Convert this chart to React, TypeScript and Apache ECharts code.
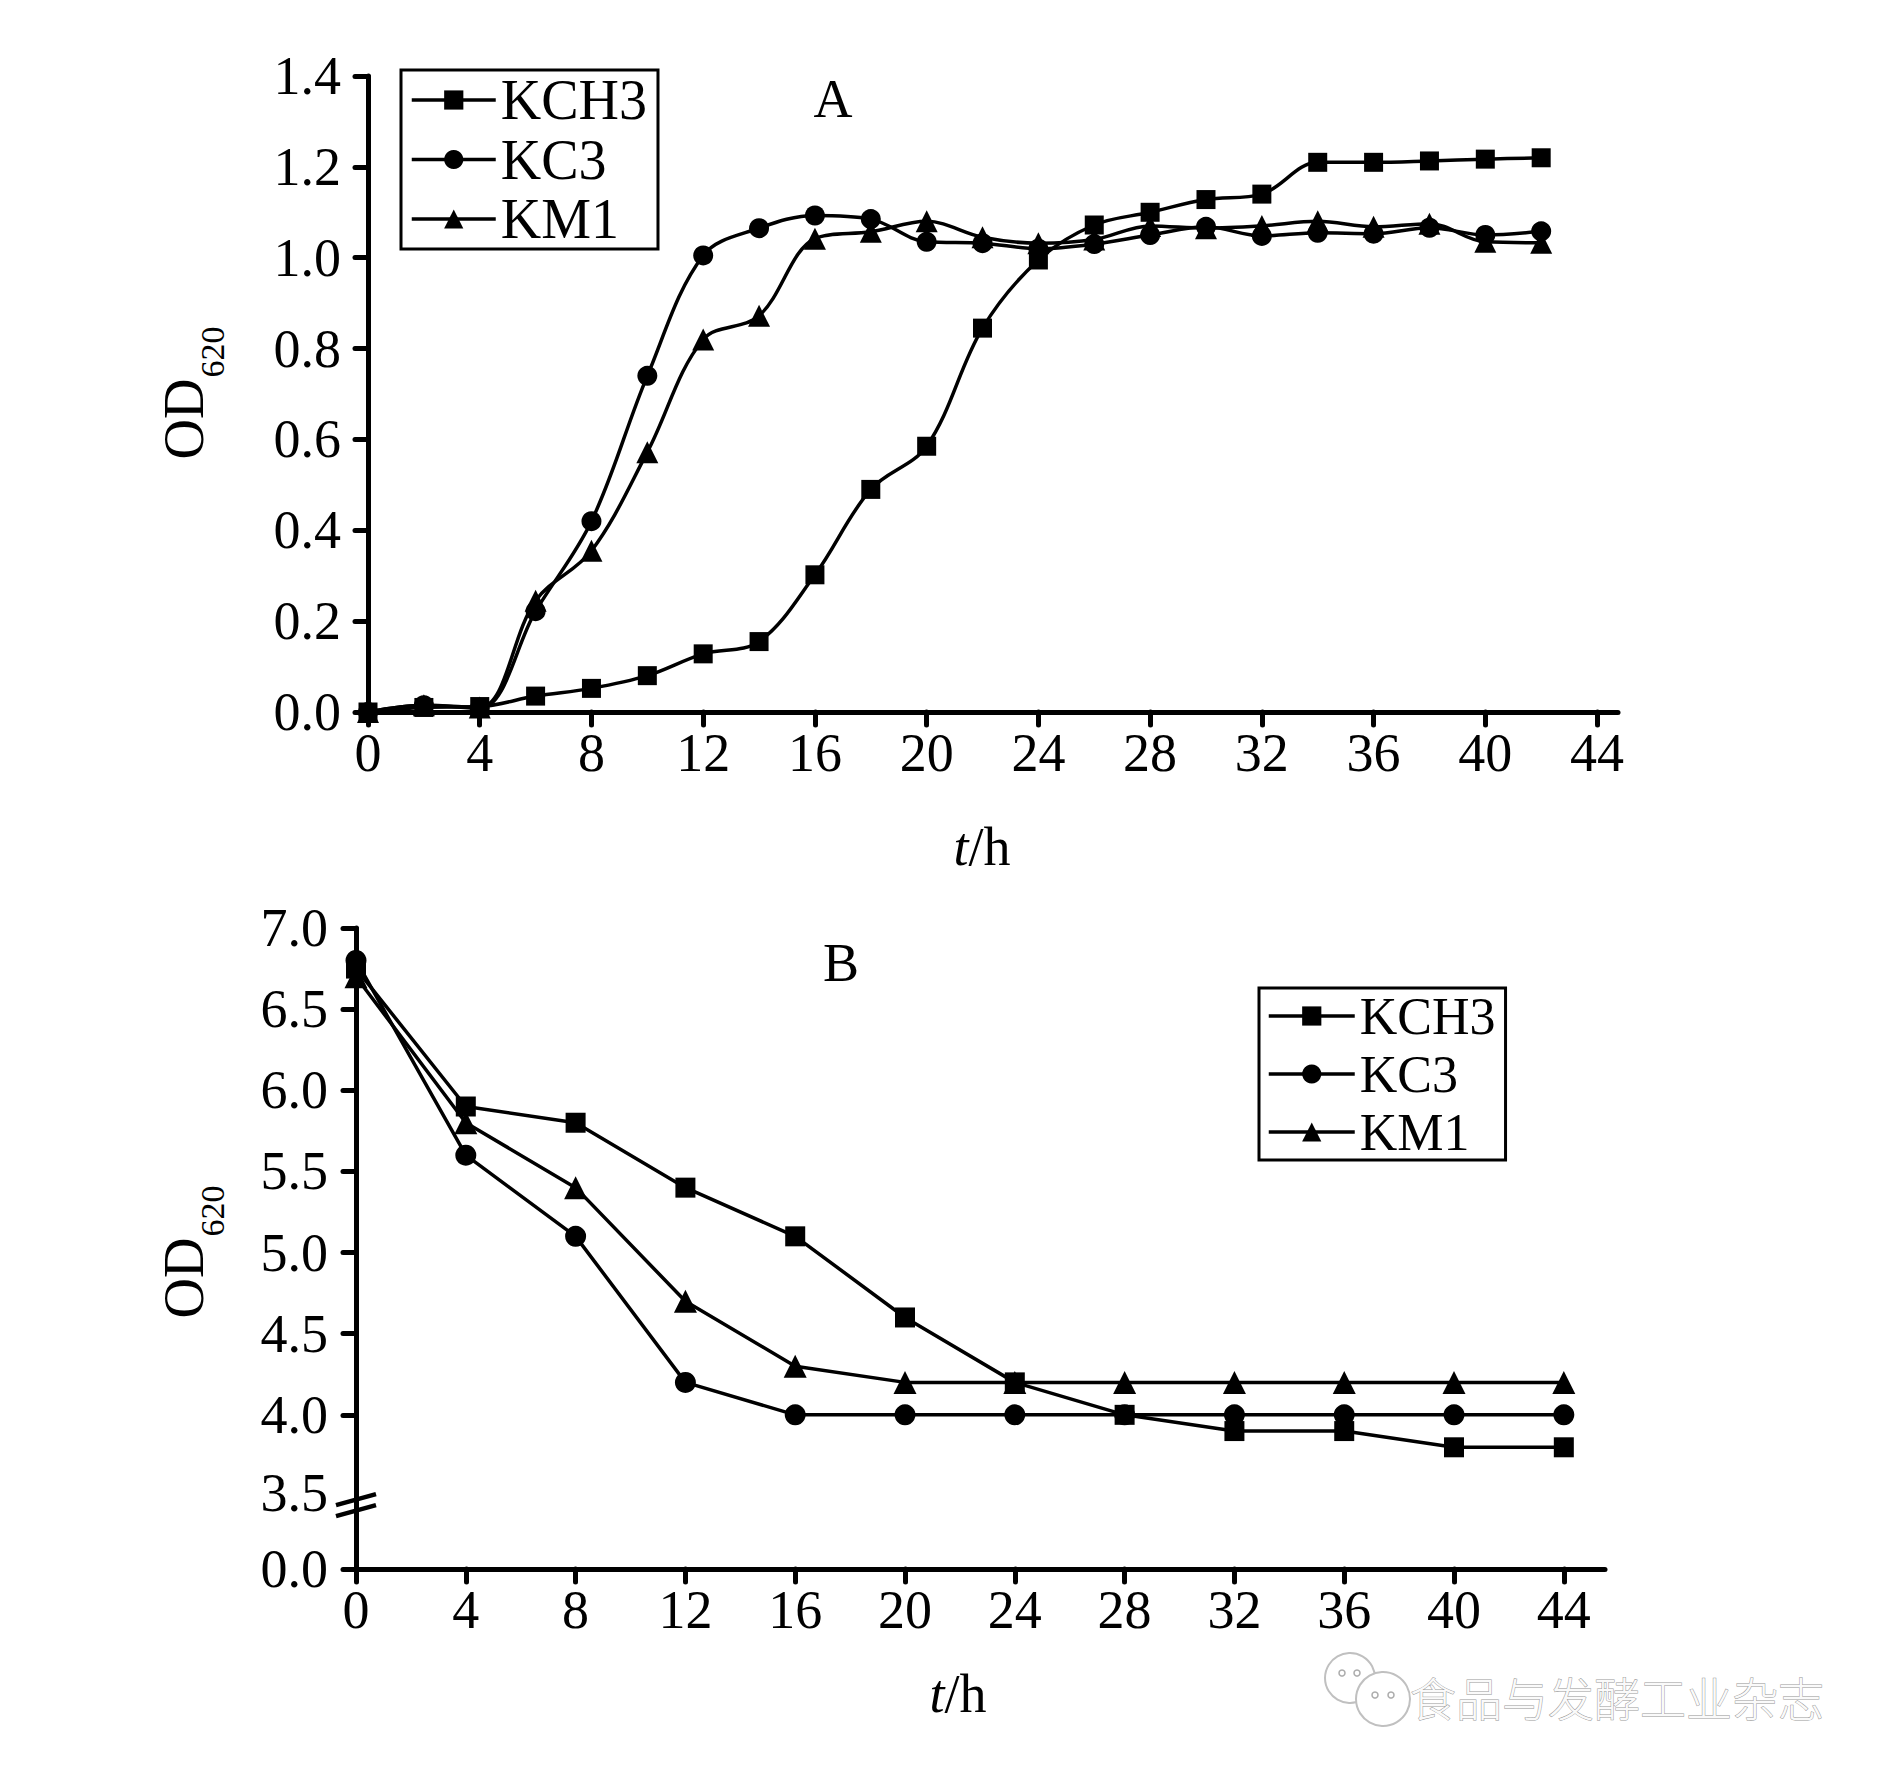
import React, { useEffect, useRef } from "react";
import * as echarts from "echarts";

// ---------- Data ----------
const hoursA = [0, 2, 4, 6, 8, 10, 12, 14, 16, 18, 20, 22, 24, 26, 28, 30, 32, 34, 36, 38, 40, 42];
const kch3A = [0.0, 0.01, 0.012, 0.035, 0.052, 0.08, 0.128, 0.155, 0.302, 0.49, 0.585, 0.845, 0.995, 1.072, 1.1, 1.128, 1.14, 1.21, 1.21, 1.213, 1.217, 1.22];
const kc3A = [0.0, 0.015, 0.008, 0.222, 0.42, 0.74, 1.005, 1.065, 1.093, 1.085, 1.035, 1.032, 1.02, 1.03, 1.05, 1.068, 1.048, 1.055, 1.053, 1.066, 1.05, 1.058];
const km1A = [0.0, 0.015, 0.01, 0.245, 0.355, 0.572, 0.82, 0.872, 1.042, 1.057, 1.08, 1.045, 1.032, 1.04, 1.07, 1.065, 1.07, 1.08, 1.068, 1.075, 1.035, 1.033];

const hoursB = [0, 4, 8, 12, 16, 20, 24, 28, 32, 36, 40, 44];
const kch3B = [6.75, 5.9, 5.8, 5.4, 5.1, 4.6, 4.2, 4.0, 3.9, 3.9, 3.8, 3.8];
const kc3B = [6.8, 5.6, 5.1, 4.2, 4.0, 4.0, 4.0, 4.0, 4.0, 4.0, 4.0, 4.0];
const km1B = [6.7, 5.8, 5.4, 4.7, 4.3, 4.2, 4.2, 4.2, 4.2, 4.2, 4.2, 4.2];

const xTickValues = [0, 4, 8, 12, 16, 20, 24, 28, 32, 36, 40, 44];
// broken axis B: bottom of axis stands for 0.0, and the 3.5 label sits just above the break
const yBreakBottom = 3.05;
const yBreakLabel35 = 3.52;
const yBreakMark = 3.45;
const yTickValuesB = [yBreakBottom, 4, 4.5, 5, 5.5, 6, 6.5, 7];
const yLabelValuesB = [yBreakBottom, yBreakLabel35, 4, 4.5, 5, 5.5, 6, 6.5, 7];
const seriesNames = ["KCH3", "KC3", "KM1"];
const watermarkText = "食品与发酵工业杂志";

const FONT = "Liberation Serif";
const BLACK = "#000";

function makeSeries(name: string, symbol: string, size: number, hours: number[], vals: number[], gi: number, smooth: number | boolean) {
  return {
    type: "line",
    name,
    xAxisIndex: gi,
    yAxisIndex: gi,
    data: hours.map((h, i) => [h, vals[i]]),
    smooth,
    symbol,
    symbolSize: size,
    showSymbol: true,
    clip: false,
    lineStyle: { color: BLACK, width: 3.5 },
    itemStyle: { color: BLACK },
    emphasis: { disabled: true },
  };
}

function xAxis(gi: number, max: number) {
  return {
    type: "value",
    gridIndex: gi,
    min: 0,
    max,
    interval: 4,
    axisLine: { show: true, lineStyle: { color: BLACK, width: 5 } },
    axisTick: { show: true, length: 13, customValues: xTickValues, lineStyle: { color: BLACK, width: 5, cap: "round" } },
    axisLabel: { customValues: xTickValues, fontFamily: FONT, fontSize: 54, color: BLACK, margin: 14 },
    splitLine: { show: false },
  };
}

export default function App() {
  const ref = useRef<HTMLDivElement>(null);

  useEffect(() => {
    if (!ref.current) return;
    const chart = echarts.init(ref.current, null, { renderer: "svg" });

    const option: any = {
      animation: false,
      backgroundColor: "#fff",
      grid: [
        { left: 368, top: 76, width: 1250, height: 636 },
        { left: 356, top: 928, width: 1249, height: 641 },
      ],
      xAxis: [xAxis(0, 44.75), xAxis(1, 45.5)],
      yAxis: [
        {
          type: "value",
          gridIndex: 0,
          min: 0,
          max: 1.4,
          interval: 0.2,
          axisLine: { show: true, lineStyle: { color: BLACK, width: 5 } },
          axisTick: { show: true, length: 13, lineStyle: { color: BLACK, width: 5, cap: "round" } },
          axisLabel: { fontFamily: FONT, fontSize: 54, color: BLACK, margin: 27, formatter: (v: number) => v.toFixed(1) },
          splitLine: { show: false },
        },
        {
          type: "value",
          gridIndex: 1,
          min: yBreakBottom,
          max: 7,
          axisLine: { show: true, lineStyle: { color: BLACK, width: 5 } },
          axisTick: { show: true, length: 13, customValues: yTickValuesB, lineStyle: { color: BLACK, width: 5, cap: "round" } },
          axisLabel: {
            customValues: yLabelValuesB,
            fontFamily: FONT,
            fontSize: 54,
            color: BLACK,
            margin: 28,
            formatter: (v: number) =>
              Math.abs(v - yBreakBottom) < 1e-9 ? "0.0" : Math.abs(v - yBreakLabel35) < 1e-9 ? "3.5" : v.toFixed(1),
          },
          splitLine: { show: false },
        },
      ],
      legend: [
        {
          data: seriesNames,
          orient: "vertical",
          left: 401,
          top: 70,
          itemWidth: 84,
          itemHeight: 24,
          itemGap: 3.5,
          padding: [2, 11, 2, 9],
          borderColor: BLACK,
          borderWidth: 3,
          selectedMode: false,
          lineStyle: { width: 3.5, color: BLACK },
          textStyle: { fontFamily: FONT, fontSize: 56, lineHeight: 56, color: BLACK },
        },
        {
          data: seriesNames,
          orient: "vertical",
          left: 1259,
          top: 988,
          itemWidth: 86,
          itemHeight: 24,
          itemGap: 6,
          padding: [2, 10, 2, 8],
          borderColor: BLACK,
          borderWidth: 3,
          selectedMode: false,
          lineStyle: { width: 3.5, color: BLACK },
          textStyle: { fontFamily: FONT, fontSize: 52, lineHeight: 52, color: BLACK },
        },
      ],
      series: [
        makeSeries(seriesNames[0], "rect", 19, hoursA, kch3A, 0, 0.35),
        makeSeries(seriesNames[1], "circle", 20, hoursA, kc3A, 0, 0.35),
        makeSeries(seriesNames[2], "triangle", 22, hoursA, km1A, 0, 0.35),
        makeSeries(seriesNames[0], "rect", 20, hoursB, kch3B, 1, false),
        makeSeries(seriesNames[1], "circle", 21, hoursB, kc3B, 1, false),
        makeSeries(seriesNames[2], "triangle", 23, hoursB, km1B, 1, false),
      ],
    };
    chart.setOption(option);

    const brk = chart.convertToPixel({ xAxisIndex: 1, yAxisIndex: 1 }, [0, yBreakMark]) as number[];
    const bx = brk[0];
    const by = brk[1];

    const txt = (x: number, y: number, text: string, size: number, extra: any = {}) => ({
      type: "text",
      x,
      y,
      silent: true,
      ...extra,
      style: {
        text,
        fontFamily: FONT,
        fontSize: size,
        fill: BLACK,
        align: "center",
        verticalAlign: "middle",
        textAlign: "center",
        textVerticalAlign: "middle",
        ...(extra.style || {}),
      },
    });

    const richTitle = (x: number, y: number) => ({
      type: "text",
      x,
      y,
      silent: true,
      style: {
        text: "{i|t}{n|/h}",
        fill: BLACK,
        align: "center",
        verticalAlign: "middle",
        textAlign: "center",
        textVerticalAlign: "middle",
        rich: {
          i: { fontFamily: FONT, fontSize: 54, fontStyle: "italic", fill: BLACK },
          n: { fontFamily: FONT, fontSize: 54, fill: BLACK },
        },
      },
    });

    chart.setOption({
      graphic: [
        // panel labels
        txt(833, 99, "A", 54),
        txt(841, 963, "B", 54),
        // y titles
        txt(184, 419, "OD", 56, { rotation: Math.PI / 2 }),
        txt(212, 352, "620", 34, { rotation: Math.PI / 2 }),
        txt(184, 1278, "OD", 56, { rotation: Math.PI / 2 }),
        txt(212, 1211, "620", 34, { rotation: Math.PI / 2 }),
        // x titles
        richTitle(982, 847),
        richTitle(958, 1694),
        // axis break on B
        {
          type: "polygon",
          silent: true,
          shape: { points: [[bx - 20, by + 1], [bx + 20, by - 10], [bx + 20, by + 1], [bx - 20, by + 12]] },
          style: { fill: "#fff" },
        },
        { type: "line", silent: true, shape: { x1: bx - 20, y1: by + 1, x2: bx + 20, y2: by - 10 }, style: { stroke: BLACK, lineWidth: 4.5 } },
        { type: "line", silent: true, shape: { x1: bx - 20, y1: by + 12, x2: bx + 20, y2: by + 1 }, style: { stroke: BLACK, lineWidth: 4.5 } },
        // watermark icon
        { type: "circle", silent: true, shape: { cx: 1350, cy: 1678, r: 25 }, style: { fill: "#fff", stroke: "#c0c0c0", lineWidth: 2 } },
        { type: "circle", silent: true, shape: { cx: 1342, cy: 1673, r: 3 }, style: { fill: "#fff", stroke: "#aaa", lineWidth: 1.5 } },
        { type: "circle", silent: true, shape: { cx: 1357, cy: 1673, r: 3 }, style: { fill: "#fff", stroke: "#aaa", lineWidth: 1.5 } },
        { type: "circle", silent: true, shape: { cx: 1383, cy: 1699, r: 27 }, style: { fill: "#fff", stroke: "#c0c0c0", lineWidth: 2 } },
        { type: "circle", silent: true, shape: { cx: 1375, cy: 1695, r: 3 }, style: { fill: "#fff", stroke: "#aaa", lineWidth: 1.5 } },
        { type: "circle", silent: true, shape: { cx: 1391, cy: 1695, r: 3 }, style: { fill: "#fff", stroke: "#aaa", lineWidth: 1.5 } },
        {
          type: "text",
          x: 1410,
          y: 1696,
          silent: true,
          style: {
            text: watermarkText,
            fontFamily: "Noto Sans CJK SC",
            fontSize: 46,
            fontWeight: 300,
            fill: "#fafafa",
            stroke: "#999",
            lineWidth: 1,
            align: "left",
            verticalAlign: "middle",
            textAlign: "left",
            textVerticalAlign: "middle",
          },
        },
      ],
    });

    return () => chart.dispose();
  }, []);

  return (
    <div
      ref={ref}
      style={{ position: "absolute", left: 0, top: 0, width: 1890, height: 1778, background: "#fff" }}
    />
  );
}
